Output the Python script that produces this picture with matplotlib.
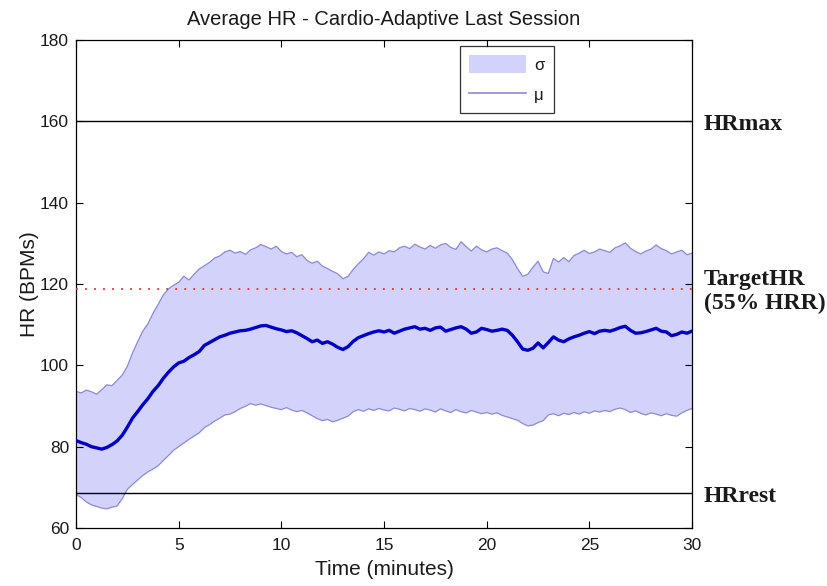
import numpy as np
import matplotlib
matplotlib.use("Agg")
import matplotlib.pyplot as plt
import matplotlib.transforms as mtransforms
from matplotlib.patches import Patch
from matplotlib.lines import Line2D

# Session time axis (minutes), sampled every 15 s
time_min = np.arange(0, 30.01, 0.25)

# Mean heart rate across sessions (BPM)
hr_mean = [
    81.5, 81.0, 80.6, 80.0, 79.7, 79.4, 79.8, 80.5, 81.4, 82.8,
    84.8, 87.0, 88.6, 90.3, 91.8, 93.6, 95.0, 96.8, 98.3, 99.6,
    100.6, 101.0, 101.9, 102.6, 103.4, 104.9, 105.6, 106.3, 107.0, 107.4,
    107.9, 108.2, 108.5, 108.6, 108.9, 109.3, 109.7, 109.8, 109.4, 109.0,
    108.7, 108.3, 108.5, 108.0, 107.3, 106.6, 105.8, 106.2, 105.4, 105.8,
    105.2, 104.4, 103.9, 104.6, 105.9, 106.8, 107.3, 107.8, 108.2, 108.5,
    108.2, 108.6, 107.9, 108.4, 108.9, 109.2, 109.5, 108.9, 109.1, 108.6,
    109.2, 109.4, 108.4, 108.8, 109.2, 109.5, 108.9, 107.9, 108.2, 109.1,
    108.8, 108.4, 108.6, 108.9, 108.6, 107.4, 105.8, 104.0, 103.7, 104.2,
    105.5, 104.3, 105.6, 107.0, 106.2, 105.8, 106.5, 107.0, 107.4, 107.9,
    108.3, 107.8, 108.4, 108.6, 108.4, 108.8, 109.3, 109.6, 108.6, 107.9,
    108.0, 108.3, 108.7, 109.1, 108.4, 108.2, 107.3, 107.6, 108.2, 107.9,
    108.4,
]

# Mean + one standard deviation (BPM)
hr_upper = [
    93.6, 93.2, 93.9, 93.5, 92.9, 94.0, 95.2, 95.0, 96.3, 97.6,
    99.8, 103.0, 105.8, 108.4, 110.2, 112.8, 115.0, 117.3, 118.8, 119.7,
    120.4, 121.9, 121.0, 122.4, 123.7, 124.5, 125.3, 126.4, 126.9, 127.9,
    128.3, 127.6, 128.0, 127.3, 128.4, 128.9, 129.7, 129.2, 128.6, 129.3,
    128.0, 127.4, 127.8, 126.7, 127.2, 125.8, 125.1, 125.6, 124.4, 123.8,
    123.1, 122.5, 121.3, 121.9, 123.6, 125.0, 126.2, 127.8, 127.1, 127.9,
    127.4, 128.2, 127.9, 128.9, 129.3, 128.7, 129.8, 129.1, 128.6, 129.5,
    128.8, 129.6, 130.0, 129.0, 128.5, 130.4, 129.2, 128.1, 129.3, 128.4,
    127.9, 128.6, 128.9, 128.2, 127.6, 126.0, 123.8, 121.9, 122.4, 124.1,
    125.6, 123.0, 122.6, 126.3, 125.4, 126.5, 125.5, 127.0, 127.6, 128.3,
    127.5, 127.9, 128.6, 128.2, 127.8, 128.9, 129.4, 130.1, 128.8, 128.0,
    127.4, 128.1, 128.6, 129.6, 128.7, 128.2, 127.4, 127.9, 128.3, 127.2,
    127.6,
]

# Mean - one standard deviation (BPM)
hr_lower = [
    68.2, 67.5, 66.4, 65.7, 65.3, 64.9, 64.7, 65.1, 65.4, 67.2,
    69.5, 70.7, 71.8, 72.9, 73.8, 74.5, 75.3, 76.6, 77.8, 79.1,
    80.0, 80.9, 81.8, 82.6, 83.4, 84.7, 85.4, 86.3, 87.0, 87.8,
    88.0, 88.6, 89.4, 89.9, 90.6, 90.2, 90.5, 90.1, 89.7, 89.4,
    89.1, 89.6, 89.0, 88.6, 88.9, 88.3, 87.6, 86.9, 86.4, 86.7,
    86.1, 86.5, 87.0, 87.5, 88.6, 89.1, 88.7, 89.3, 88.9, 89.4,
    89.0, 88.8, 89.5, 89.2, 88.8, 89.4, 89.1, 88.7, 89.3, 89.0,
    88.5, 89.3, 88.8, 88.4, 89.1, 88.6, 88.3, 88.9, 88.5, 88.1,
    88.4, 88.0, 88.3, 87.7, 87.3, 86.9, 86.5, 85.7, 85.1, 85.3,
    85.9, 86.4, 87.8, 88.1, 87.6, 88.2, 87.9, 88.4, 88.0, 88.6,
    88.2, 88.8, 88.5, 88.9, 88.6, 89.2, 89.5, 89.1, 88.4, 88.8,
    88.2, 87.8, 88.3, 88.0, 87.6, 88.1, 87.7, 87.5, 88.3, 88.9,
    89.4,
]

# Reference heart rates
hr_max = 160.0
hr_rest = 68.5
hrr_fraction = 0.55
hr_target = hr_rest + hrr_fraction * (hr_max - hr_rest)

title = "Average HR - Cardio-Adaptive Last Session"
xlabel = "Time (minutes)"
ylabel = "HR (BPMs)"
x_ticks = [0, 5, 10, 15, 20, 25, 30]
y_ticks = [60, 80, 100, 120, 140, 160, 180]

plt.rcParams["font.family"] = ["Liberation Sans", "DejaVu Sans"]

fig = plt.figure(figsize=(8.28, 5.86), dpi=100)
ax = fig.add_axes([0.0918, 0.0990, 0.7440, 0.8327])

fill_col = "#d2d2fb"
edge_col = "#8a8ad8"
mean_col = "#0000c8"
text_col = "#1a1a1a"

ax.fill_between(time_min, hr_lower, hr_upper, facecolor=fill_col,
                edgecolor="none", zorder=1)
ax.plot(time_min, hr_upper, color=edge_col, lw=0.9, zorder=2)
ax.plot(time_min, hr_lower, color=edge_col, lw=0.9, zorder=2)
ax.plot(time_min, hr_mean, color=mean_col, lw=2.4, zorder=4)

ax.axhline(hr_max, color="black", lw=1.0, zorder=3)
ax.axhline(hr_rest, color="black", lw=1.0, zorder=3)
ax.axhline(hr_target, color="#e03030", lw=1.3, ls=(0, (1, 4)), zorder=3)

ax.set_xlim(0, 30)
ax.set_ylim(60, 180)
ax.set_xticks(x_ticks)
ax.set_yticks(y_ticks)
ax.tick_params(direction="in", top=True, right=True, length=5,
               labelsize=12.5, width=0.8, labelcolor=text_col)
ax.tick_params(axis="x", pad=7)
ax.tick_params(axis="y", pad=5)
for s in ax.spines.values():
    s.set_linewidth(0.9)

ax.set_title(title, fontsize=14.5, pad=11, color=text_col)
ax.set_xlabel(xlabel, fontsize=15, labelpad=5, color=text_col)
ax.set_ylabel(ylabel, fontsize=15, labelpad=1, color=text_col)

# Labels for the reference lines, placed just right of the axes
lab_trans = mtransforms.offset_copy(ax.get_yaxis_transform(), fig=fig,
                                    x=0, y=-3, units="dots")
lab_kw = dict(transform=lab_trans, fontsize=17, fontweight="bold",
              family=["Liberation Serif"], va="center", ha="left",
              color=text_col)
ax.text(1.019, hr_max, "HRmax", **lab_kw)
ax.text(1.019, hr_target, "TargetHR\n(55% HRR)", linespacing=1.2, **lab_kw)
ax.text(1.019, hr_rest, "HRrest", **lab_kw)

handles = [Patch(facecolor=fill_col, edgecolor="none"),
           Line2D([], [], color="#8a8ad8", lw=1.2)]
leg = ax.legend(handles, ["σ", "μ"], loc="upper left",
                bbox_to_anchor=(0.623, 0.988), borderaxespad=0,
                frameon=True, fancybox=False, edgecolor="black",
                fontsize=12, handlelength=3.4, handleheight=1.3,
                handletextpad=0.5, borderpad=0.55, labelspacing=0.75)
leg.get_frame().set_linewidth(0.9)
for t in leg.get_texts():
    t.set_color(text_col)

fig.savefig("out.png", dpi=100)
